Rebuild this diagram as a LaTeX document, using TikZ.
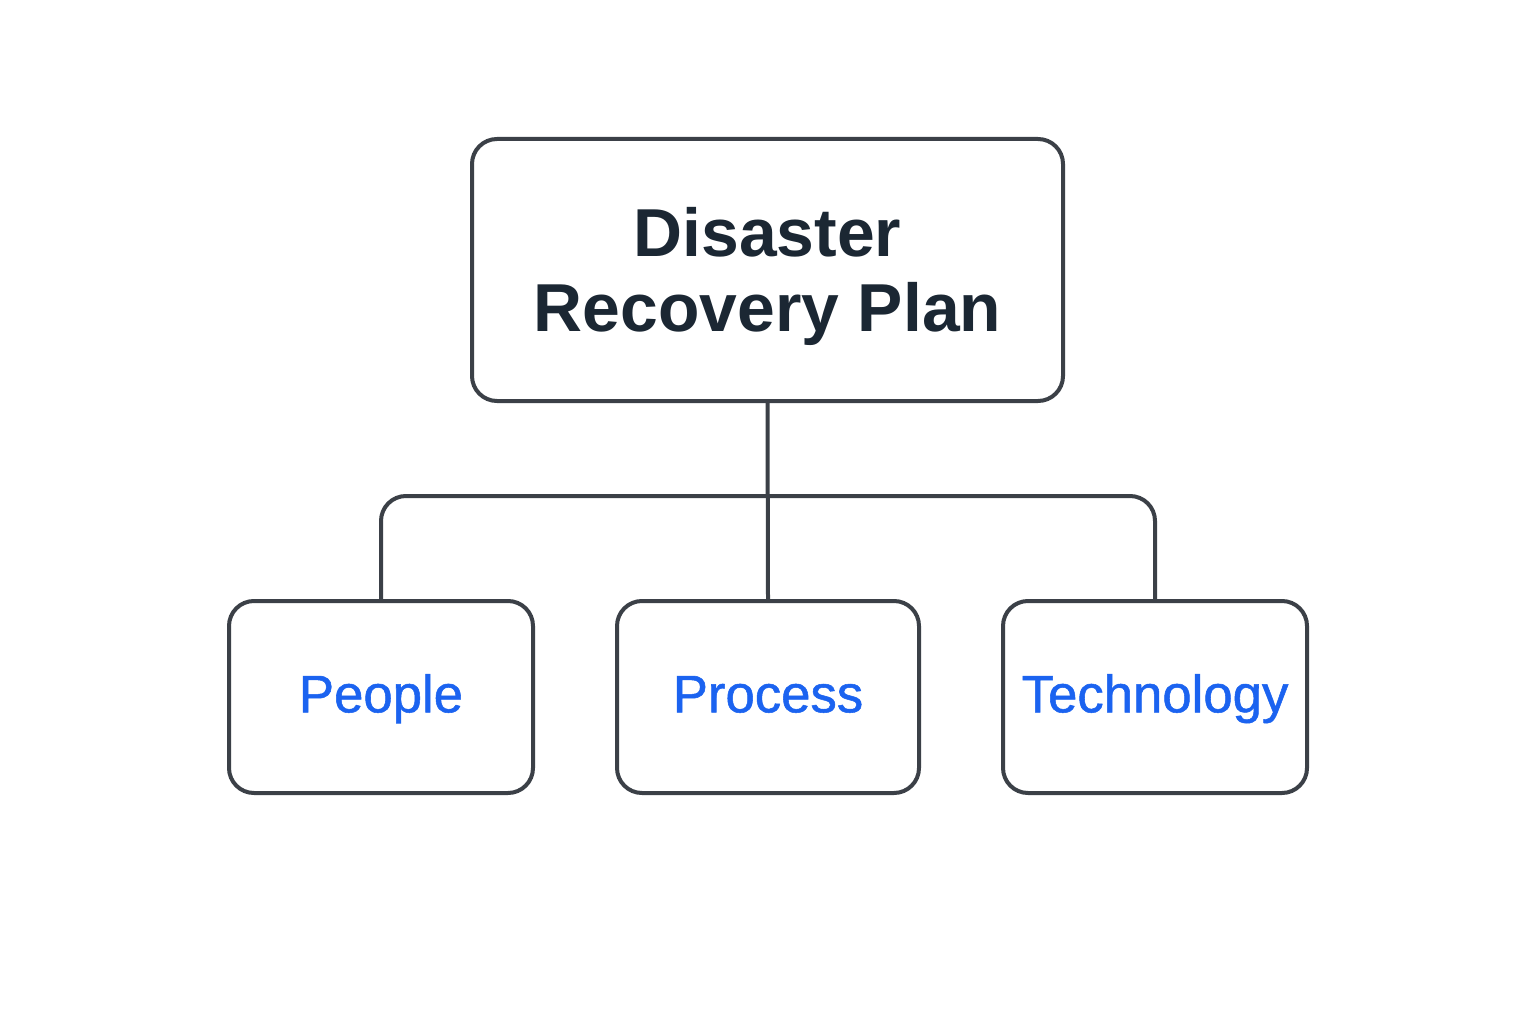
\documentclass[tikz,border=0pt]{standalone}
\usepackage{fontspec}
\setmainfont{Liberation Sans}
\newfontfamily\itemfont[FakeBold=1]{Liberation Sans}
\usepackage{tikz}
\usepackage{xcolor}
\usetikzlibrary{positioning}

\definecolor{linegray}{HTML}{3B4047}
\definecolor{titleink}{HTML}{1B2733}
\definecolor{itemblue}{HTML}{1B63F0}

\begin{document}
\begin{tikzpicture}[
  box/.style={draw=linegray, line width=0.04cm, rounded corners=0.25cm, fill=white, align=center, inner sep=0pt},
  item/.style={box, minimum width=3.04cm, minimum height=1.92cm, text=itemblue,
      text height=0.97em, text depth=0.1em, font=\itemfont\fontsize{15}{18}\selectfont},
  wire/.style={draw=linegray, line width=0.04cm},
  every node/.style={scale=1}]

\useasboundingbox (0,0) rectangle (15.36,10.24);

\node[box, minimum width=5.91cm, minimum height=2.62cm, text=titleink,
      font=\fontsize{19.3}{21.4}\selectfont\bfseries] (plan) at (7.675,7.54) {\rule{0pt}{17.5pt}Disaster\\Recovery Plan};

\node[item] (people) at (3.81,3.27) {People};
\node[item, minimum width=3.02cm] (process) at (7.68,3.27) {Process};
\node[item] (tech) at (11.55,3.27) {Technology};

\coordinate (hub) at (7.675,5.28);

\draw[wire] (plan.south) -- (process.north);
\draw[wire, rounded corners=0.25cm] (people.north) |- (hub) -| (tech.north);
\end{tikzpicture}
\end{document}
